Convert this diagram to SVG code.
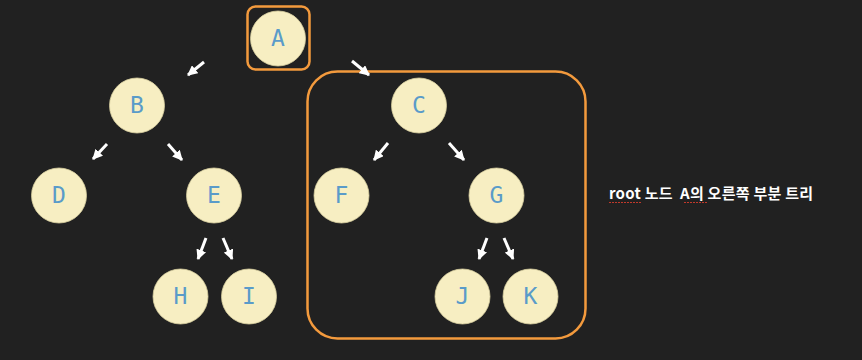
<svg xmlns="http://www.w3.org/2000/svg" width="862" height="360" viewBox="0 0 862 360">
<defs>
<marker id="ah" viewBox="0 0 10 10" refX="9" refY="5" markerWidth="3.4" markerHeight="3.4" orient="auto" markerUnits="strokeWidth">
<path d="M0,0 L10,5 L0,10 z" fill="#ffffff"/>
</marker>
<style>
.n circle{fill:#F7EEC2;stroke:#d8cfa0;stroke-width:0.8}
.n text{font-family:"DejaVu Sans Mono",monospace;font-size:23px;fill:#5A9BC9;text-anchor:middle;dominant-baseline:central}
.e line{stroke:#ffffff;stroke-width:3;marker-end:url(#ah)}
.box{fill:none;stroke:#F39A3D;stroke-width:2.5}
.lbl{font-family:"Noto Sans CJK KR","Noto Sans",sans-serif;font-size:15px;font-weight:bold;fill:#ffffff;white-space:pre}
</style>
</defs>
<rect width="862" height="360" fill="#212121"/>
<rect class="box" x="247.5" y="6.5" width="62" height="63" rx="8"/>
<rect class="box" x="307.5" y="71.5" width="278" height="267" rx="30"/>
<g class="e" id="edges">
<line x1="204" y1="62" x2="188" y2="75"/>
<line x1="352" y1="61" x2="369" y2="75"/>
<line x1="107" y1="144" x2="93" y2="159"/>
<line x1="168" y1="144" x2="182" y2="160"/>
<line x1="388" y1="143" x2="374" y2="160"/>
<line x1="449" y1="143" x2="464" y2="160"/>
<line x1="206" y1="238" x2="198" y2="259"/>
<line x1="223" y1="238" x2="232" y2="259"/>
<line x1="487" y1="238" x2="479" y2="259"/>
<line x1="504" y1="238" x2="513" y2="259"/>
</g>
<g class="n" id="A"><circle cx="278" cy="38.5" r="27.5"/><text x="278" y="38">A</text></g>
<g class="n" id="B"><circle cx="137" cy="105.5" r="27.5"/><text x="137" y="105">B</text></g>
<g class="n" id="C"><circle cx="419" cy="105.5" r="27.5"/><text x="419" y="105">C</text></g>
<g class="n" id="D"><circle cx="59" cy="195.5" r="27.5"/><text x="59" y="195">D</text></g>
<g class="n" id="E"><circle cx="214" cy="195.5" r="27.5"/><text x="214" y="195">E</text></g>
<g class="n" id="F"><circle cx="341.5" cy="195.5" r="27.5"/><text x="341.5" y="195">F</text></g>
<g class="n" id="G"><circle cx="496.5" cy="195.5" r="27.5"/><text x="496.5" y="195">G</text></g>
<g class="n" id="H"><circle cx="180.5" cy="296.5" r="27.5"/><text x="180.5" y="296">H</text></g>
<g class="n" id="I"><circle cx="249" cy="296.5" r="27.5"/><text x="249" y="296">I</text></g>
<g class="n" id="J"><circle cx="462.5" cy="296.5" r="27.5"/><text x="462.5" y="296">J</text></g>
<g class="n" id="K"><circle cx="530.5" cy="296.5" r="27.5"/><text x="530.5" y="296">K</text></g>
<g id="label">
<text class="lbl" x="609" y="199" textLength="204" lengthAdjust="spacing">root 노드  A의 오른쪽 부분 트리</text>
<line x1="609" y1="202.5" x2="641" y2="202.5" stroke="#c0392b" stroke-width="1.2" stroke-dasharray="2 1"/>
<line x1="684" y1="202.5" x2="708" y2="202.5" stroke="#c0392b" stroke-width="1.2" stroke-dasharray="2 1"/>
</g>
</svg>
